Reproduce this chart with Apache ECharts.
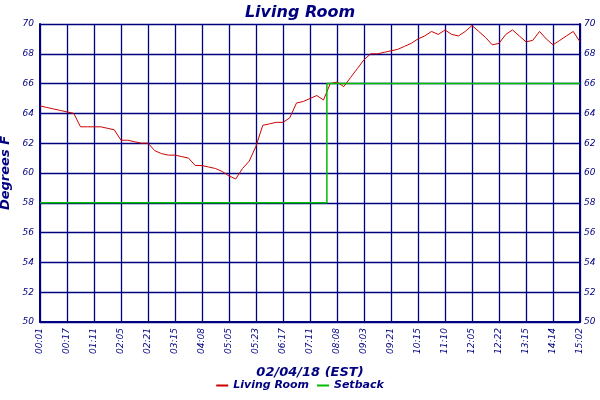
<!DOCTYPE html>
<html>
<head>
<meta charset="utf-8">
<script src="https://cdn.jsdelivr.net/npm/echarts@6/dist/echarts.min.js"></script>
<style>html,body{margin:0;background:#fff}#main{width:600px;height:400px}</style>
</head>
<body>
<div id="main"></div>
<script>
// tick labels, one every 4 samples
const tickLabels = ['00:01','00:17','01:11','02:05','02:21','03:15','04:08','05:05','05:23','06:17','07:11',
  '08:08','09:03','09:21','10:15','11:10','12:05','12:22','13:15','14:14','15:02']
const livingRoom = [64.5,64.4,64.3,64.2,64.1,64.0,63.1,63.1,63.1,63.1,63.0,62.9,62.2,62.2,62.1,62.0,62.0,61.5,61.3,61.2,
  61.2,61.1,61.0,60.5,60.5,60.4,60.3,60.1,59.8,59.6,60.3,60.8,61.8,63.2,63.3,63.4,63.4,63.7,64.7,64.8,
  65.0,65.2,64.9,66.0,66.1,65.8,66.4,67.0,67.6,68.0,68.0,68.1,68.2,68.3,68.5,68.7,69.0,69.2,69.5,69.3,
  69.6,69.3,69.2,69.5,69.9,69.5,69.1,68.6,68.7,69.3,69.6,69.2,68.8,68.9,69.5,69.0,68.6,68.9,69.2,69.5,68.8]
const setback = livingRoom.map((v, i) => i < 43 ? 58 : 66)
const categories = livingRoom.map((v, i) => i % 4 === 0 ? tickLabels[i / 4] : '')

const navy = '#000080'
const font = 'DejaVu Sans'
const chart = echarts.init(document.getElementById('main'))

const yAx = (pos) => ({
  type: 'value', position: pos, min: 50, max: 70, interval: 2,
  name: pos === 'left' ? 'Degrees F' : '', nameLocation: 'middle', nameGap: 26,
  nameTextStyle: { color: navy, fontFamily: font, fontStyle: 'italic', fontWeight: 'bold', fontSize: 13 },
  axisLine: { show: true, lineStyle: { color: navy, width: 2 } },
  axisTick: { show: false },
  axisLabel: { color: navy, fontFamily: font, fontStyle: 'italic', fontSize: 9, margin: pos === 'left' ? 6 : 4 },
  splitLine: { show: pos === 'left', lineStyle: { color: navy, width: 1.3 } }
})

chart.setOption({
  animation: false,
  title: { text: 'Living Room', left: 'center', top: 0,
    textStyle: { color: navy, fontFamily: font, fontStyle: 'italic', fontWeight: 'bold', fontSize: 16 } },
  legend: { bottom: 4, itemWidth: 12, itemHeight: 2, icon: 'rect',
    textStyle: { color: navy, fontFamily: font, fontStyle: 'italic', fontWeight: 'bold', fontSize: 11 } },
  grid: { left: 40, right: 20, top: 24, bottom: 78, outerBoundsMode: 'none' },
  xAxis: {
    type: 'category', data: categories, boundaryGap: false,
    name: '02/04/18 (EST)', nameLocation: 'middle', nameGap: 44,
    nameTextStyle: { color: navy, fontFamily: font, fontStyle: 'italic', fontWeight: 'bold', fontSize: 13 },
    axisLine: { lineStyle: { color: navy, width: 2 } },
    axisTick: { show: false },
    axisLabel: { interval: 3, rotate: 90, color: navy, fontFamily: font, fontStyle: 'italic', fontSize: 9, margin: 6 },
    splitLine: { show: true, interval: 3, lineStyle: { color: navy, width: 1.3 } }
  },
  yAxis: [yAx('left'), yAx('right')],
  series: [
    { name: 'Living Room', type: 'line', data: livingRoom, symbol: 'none',
      lineStyle: { color: '#cc0000', width: 1 }, itemStyle: { color: '#cc0000' } },
    { name: 'Setback', type: 'line', data: setback, step: 'middle', symbol: 'none',
      lineStyle: { color: '#00bb00', width: 1.5 }, itemStyle: { color: '#00bb00' } }
  ]
})
</script>
</body>
</html>
